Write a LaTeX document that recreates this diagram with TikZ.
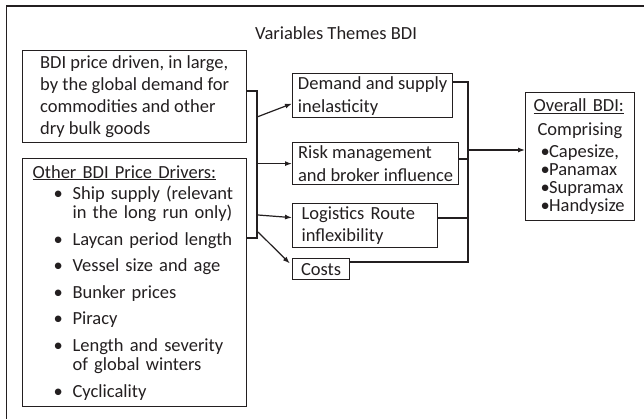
\documentclass[tikz,border=0pt]{standalone}
\usepackage{fontspec}
\setmainfont{Carlito}
\usetikzlibrary{positioning}
\usetikzlibrary{calc}
\usetikzlibrary{arrows.meta}

\definecolor{ink}{HTML}{231F20}
\newcommand{\bodysize}{\fontsize{18.5}{22}\selectfont}
\newcommand{\bul}{\hspace*{21pt}\makebox[19pt][l]{\textbullet}}
\newcommand{\cont}{\hspace*{40pt}}
\newcommand{\obul}{\hspace*{7pt}\makebox[8.5pt][l]{\textbullet}}

\tikzset{
  box/.style={draw=ink, line width=1.2pt, anchor=north west, inner sep=0pt,
              align=left, font=\bodysize, text=ink},
  link/.style={draw=ink, line width=1.2pt},
  arr/.style={link, -{Latex[length=7pt,width=5pt]}},
}

\begin{document}
\begin{tikzpicture}[x=1pt,y=-1pt]

  \clip (0,0) rectangle (644,418);

  % frame
  \draw[link] (6.5,440) -- (6.5,6) -- (660,6);
  \node[font=\bodysize, text=ink] (title) at (336,33) {Variables Themes BDI};

  % left column
  \node[box, minimum width=224pt, minimum height=92pt] (price) at (22,50)
    {BDI price driven, in large,\\ by the global demand for\\ commodities and other\\ dry bulk goods};

  \node[box, inner xsep=10pt, text width=204pt, minimum height=248pt,
        font=\fontsize{18.5}{19.5}\selectfont] (drivers) at (22,158)
    {\underline{Other BDI Price Drivers:}\\[1.5pt]
     \bul Ship supply (relevant\\
     \cont in the long run only)\\[7pt]
     \bul Laycan period length\\[7pt]
     \bul Vessel size and age\\[7pt]
     \bul Bunker prices\\[7pt]
     \bul Piracy\\[7pt]
     \bul Length and severity\\
     \cont of global winters\\[7pt]
     \bul Cyclicality};

  % middle column
  \node[box, minimum width=160pt, minimum height=44pt,
        font=\fontsize{18.5}{23}\selectfont] (demand) at (292,73)
    {Demand and supply\\ inelasticity};
  \node[box, minimum width=166pt, minimum height=42pt,
        font=\fontsize{18.5}{23}\selectfont] (risk) at (292,142)
    {Risk management\\ and broker influence};
  \node[box, inner xsep=9pt, text width=127pt, minimum height=44pt] (route) at (292,203)
    {Logistics Route\\ inflexibility};
  \node[box, minimum width=57pt, minimum height=21pt] (costs) at (292,258)
    {Costs};

  % right column
  \node[box, inner xsep=8pt, text width=93pt, minimum height=128pt,
        font=\fontsize{18.5}{18}\selectfont] (overall) at (525,92)
    {\mbox{\underline{Overall BDI:}}\\[6pt]
     \hspace*{4pt}\mbox{Comprising}\\[4pt]
     \obul\mbox{Capesize,}\\
     \obul\mbox{Panamax}\\
     \obul\mbox{Supramax}\\
     \obul\mbox{Handysize}};

  % left bracket
  \coordinate (ltop) at (257,91);
  \coordinate (lbot) at (257,238);
  \draw[link] (price.east |- ltop) -- (ltop) -- (lbot) -- (drivers.east |- lbot);

  \coordinate (l1) at (257,117);
  \coordinate (l3) at (258,215);
  \coordinate (l4) at (258,232);
  \draw[arr] (l1) -- ([yshift=-8pt]demand.west);
  \draw[arr] (risk.west -| ltop) -- (risk.west);
  \draw[arr] (l3) -- ([yshift=8pt]route.west);
  \draw[arr, shorten >=3pt] (l4) -- ([yshift=3.5pt]costs.west);

  % right bracket
  \coordinate (rtop) at (468,82);
  \coordinate (rbot) at (468,262);
  \coordinate (r2) at (468,159);
  \coordinate (r3) at (468,218);
  \coordinate (rmid) at (468,150);
  \draw[link] (demand.east |- rtop) -- (rtop) -- (rbot) -- (costs.east |- rbot);
  \draw[link] (risk.east |- r2) -- (r2);
  \draw[link] (route.east |- r3) -- (r3);
  \draw[arr] (rmid) -- (overall.west |- rmid);

\end{tikzpicture}
\end{document}
